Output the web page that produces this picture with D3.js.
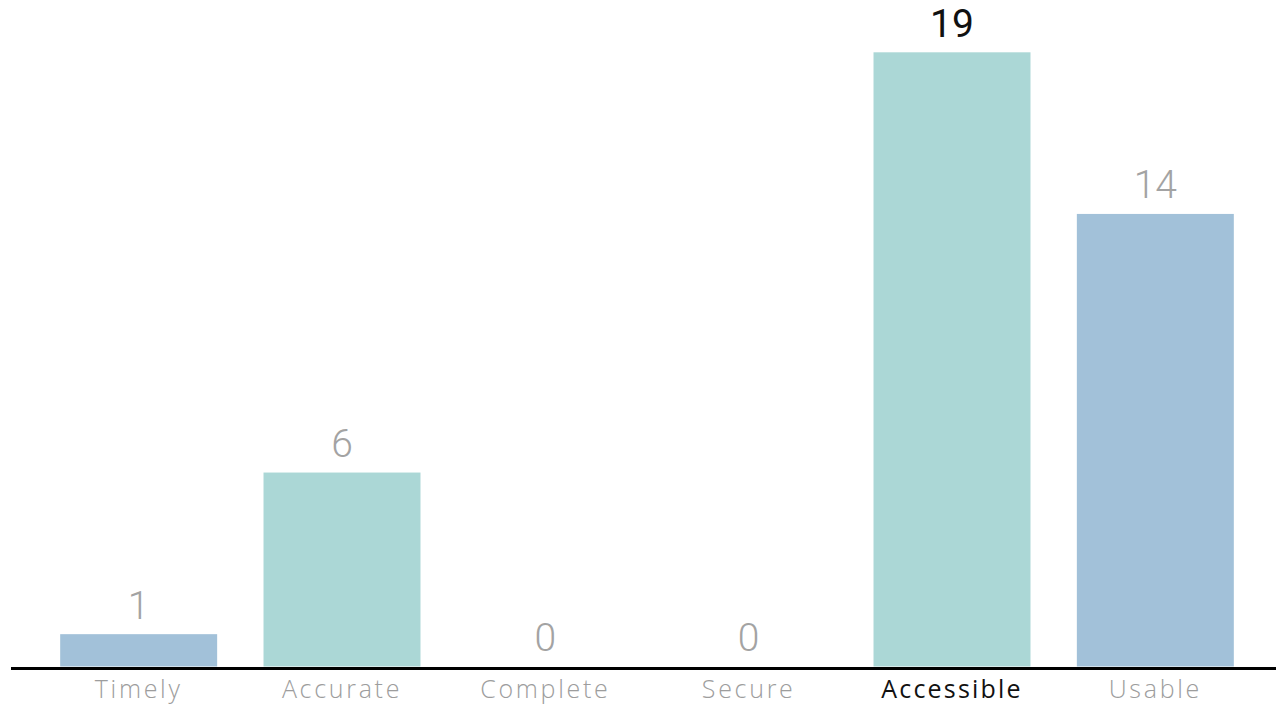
<!DOCTYPE html>
<html>
<head>
<meta charset="utf-8">
<script src="https://cdn.jsdelivr.net/npm/d3@7"></script>
<style>
  html, body { margin: 0; padding: 0; background: #fff; }
  svg { display: block; }
</style>
</head>
<body>
<svg id="chart" width="1276" height="708"></svg>
<script>
// Data
const categories = ["Timely", "Accurate", "Complete", "Secure", "Accessible", "Usable"];
const counts = [1, 6, 0, 0, 19, 14];
const barColors = ["#a2c1d9", "#abd7d6", "#a2c1d9", "#abd7d6", "#abd7d6", "#a2c1d9"];
const highlighted = "Accessible";

const svg = d3.select("#chart");
const W = 1276, H = 708;
const baseY = 666.5;

const x = d3.scaleBand()
  .domain(categories)
  .range([37, 1257])
  .paddingInner(0.228)
  .paddingOuter(0.114);

const y = d3.scaleLinear()
  .domain([0, 19])
  .range([baseY, 52.3]);

// Bars
svg.append("g")
  .selectAll("rect")
  .data(categories)
  .join("rect")
  .attr("x", d => x(d))
  .attr("width", x.bandwidth())
  .attr("y", (d, i) => y(counts[i]))
  .attr("height", (d, i) => y(0) - y(counts[i]))
  .attr("fill", (d, i) => barColors[i]);

// Value labels above the bars
svg.append("g")
  .selectAll("text")
  .data(categories)
  .join("text")
  .attr("x", d => x(d) + x.bandwidth() / 2)
  .attr("y", (d, i) => y(counts[i]) - 15.5)
  .attr("text-anchor", "middle")
  .attr("font-family", "Roboto, 'Open Sans', sans-serif")
  .attr("font-weight", d => d === highlighted ? 400 : 300)
  .attr("font-size", 39)
  .attr("fill", d => d === highlighted ? "#111" : "#a3a3a3")
  .text((d, i) => counts[i]);

// Baseline and category axis
const axis = d3.axisBottom(x).tickSize(0).tickPadding(12);
const gAxis = svg.append("g")
  .attr("transform", `translate(0,${baseY + 2})`)
  .call(axis);
gAxis.select(".domain").remove();
gAxis.append("line")
  .attr("x1", 11).attr("x2", W)
  .attr("y1", 0).attr("y2", 0)
  .attr("stroke", "#000")
  .attr("stroke-width", 3);
gAxis.selectAll(".tick text")
  .attr("font-family", "'Open Sans', sans-serif")
  .attr("font-weight", d => d === highlighted ? 400 : 300)
  .attr("font-size", 25)
  .attr("letter-spacing", d => d === highlighted ? 2.2 : 2.7)
  .attr("fill", d => d === highlighted ? "#111" : "#9d9d9d");
</script>
</body>
</html>
